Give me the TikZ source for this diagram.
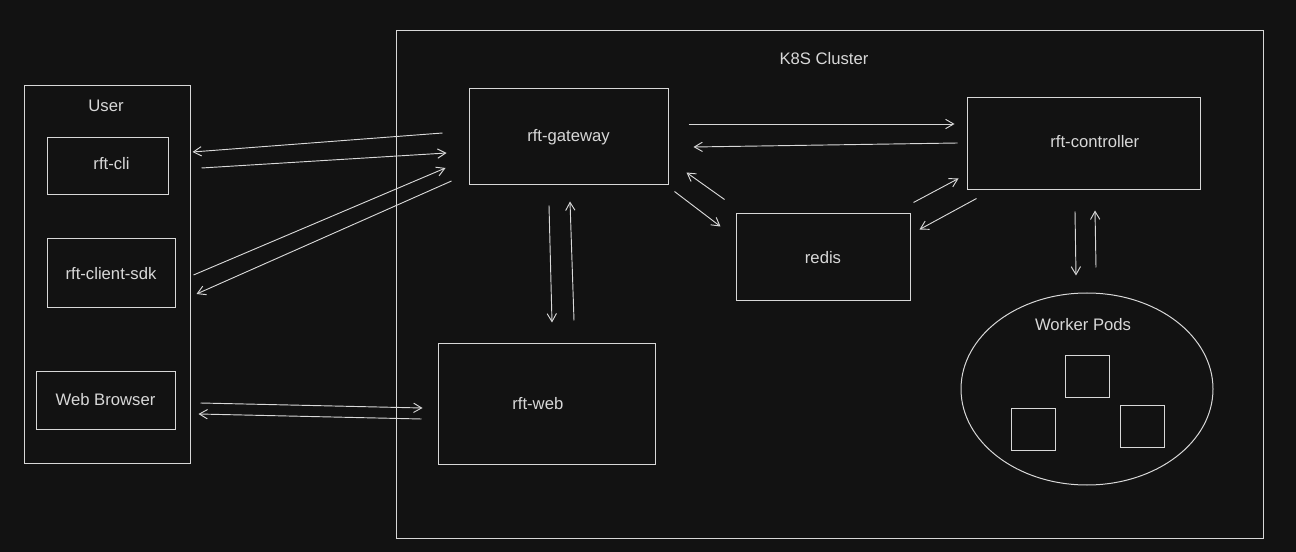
\documentclass[tikz,border=0pt]{standalone}
\usepackage{fontspec}
\setmainfont{Liberation Sans}
\usetikzlibrary{arrows.meta,shapes.geometric}
\definecolor{bgdark}{HTML}{121212}
\definecolor{chalk}{HTML}{D8D8D8}
\tikzset{
  box/.style={draw=chalk, line width=0.75pt, text=chalk, inner sep=0pt, font=\fontsize{12.5}{14}\selectfont},
  lbl/.style={text=chalk, font=\fontsize{12.5}{14}\selectfont},
  arr/.style={draw=chalk, line width=0.7pt, -{Straight Barb[length=6pt,width=7pt]}}
}
\begin{document}
\begin{tikzpicture}[x=0.75pt,y=0.75pt,yscale=-1,xscale=1]
% background, also fixes the size
\fill[bgdark] (0,0) rectangle (1296,552);

% Cluster and user frames
\node[box, minimum width=650.25pt, minimum height=380.25pt] (cluster) at (829.5,284.5) {};
\node[box, minimum width=124.5pt, minimum height=282.75pt] (user) at (107,274.5) {};
% Text Node
\node[lbl] (clusterlbl) at (824,59) {K8S Cluster};
% Text Node
\node[lbl] (userlbl) at (106,106) {User};

% User side
\node[box, minimum width=90.75pt, minimum height=42.75pt, label={[lbl,xshift=3pt,yshift=2pt]center:rft-cli}] (cli) at (107.5,166.5) {};
\node[box, minimum width=96pt, minimum height=51.75pt] (sdk) at (111,273.5) {rft-client-sdk};
\node[box, minimum width=104.25pt, minimum height=43.5pt] (browser) at (105.5,400) {Web Browser};

% Cluster side
\node[box, minimum width=149.25pt, minimum height=72pt] (gw) at (568.5,137) {rft-gateway};
\node[box, minimum width=174.75pt, minimum height=69pt, label={[lbl,xshift=8.5pt,yshift=1.5pt]center:rft-controller}] (ctrl) at (1083.5,144) {};
\node[box, minimum width=130.5pt, minimum height=65.25pt] (redis) at (823,257.5) {redis};
\node[box, minimum width=162.75pt, minimum height=90pt, label={[lbl,xshift=-6.5pt]center:rft-web}] (web) at (546.5,404) {};

% Worker pods
\node[box, ellipse, minimum width=189pt, minimum height=144pt] (pods) at (1087,389) {};
% Text Node
\node[lbl] (podslbl) at (1083,325) {Worker Pods};
\node[box, minimum width=33pt, minimum height=31.5pt] (podA) at (1087,376) {};
\node[box, minimum width=33pt, minimum height=31.5pt] (podB) at (1033,429) {};
\node[box, minimum width=33pt, minimum height=31.5pt] (podC) at (1142,426) {};

% user <-> gateway
\draw[arr] ([shift={(-26,-4)}]gw.west) -- ([shift={(24,-14.5)}]cli.east);
\draw[arr] ([shift={(33,1.5)}]cli.east) -- ([shift={(-22,16)}]gw.west);
\draw[arr] ([shift={(18,1.5)}]sdk.east) -- ([shift={(-23,31)}]gw.west);
\draw[arr] ([shift={(-17,44)}]gw.west) -- ([shift={(21,20.5)}]sdk.east);
% browser <-> web
\draw[arr] ([shift={(25,3)}]browser.east) -- ([shift={(-15,4)}]web.west);
\draw[arr] ([shift={(-16,15)}]web.west) -- ([shift={(23,14)}]browser.east);
% gateway <-> web
\draw[arr] ([shift={(-19.5,20)}]gw.south) -- ([shift={(5.5,-21)}]web.north);
\draw[arr] ([shift={(27.5,-23)}]web.north) -- ([shift={(1.5,16)}]gw.south);
% gateway <-> controller
\draw[arr] ([shift={(20,-13)}]gw.east) -- ([shift={(-12,-20)}]ctrl.west);
\draw[arr] ([shift={(-9,-1)}]ctrl.west) -- ([shift={(25,10)}]gw.east);
% gateway <-> redis
\draw[arr] ([shift={(6,6)}]gw.south east) -- ([shift={(-15,13)}]redis.north west);
\draw[arr] ([shift={(-11,-14)}]redis.north west) -- ([shift={(18,-13)}]gw.south east);
% redis <-> controller
\draw[arr] ([shift={(3,-11)}]redis.north east) -- ([shift={(-8,-12)}]ctrl.south west);
\draw[arr] ([shift={(10,8)}]ctrl.south west) -- ([shift={(9,16)}]redis.north east);
% controller <-> pods
\draw[arr] ([shift={(-8.5,21)}]ctrl.south) -- ([shift={(-11,-17)}]pods.north);
\draw[arr] ([shift={(9,-25)}]pods.north) -- ([shift={(11.5,20)}]ctrl.south);

\end{tikzpicture}
\end{document}
